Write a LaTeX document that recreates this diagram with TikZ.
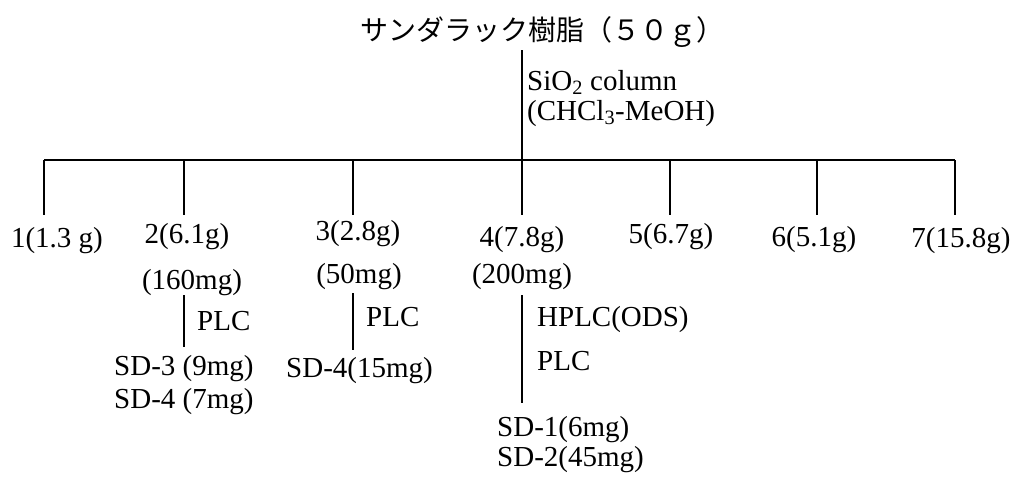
\documentclass[tikz,border=0pt]{standalone}
\usepackage{fontspec}
\setmainfont{Liberation Serif}
\newfontfamily\cjk{Noto Sans CJK JP}
\begin{document}
\begin{tikzpicture}[x=1pt,y=-1pt,
  lbl/.style={inner sep=0pt,font=\fontsize{29}{34}\selectfont},
  ttl/.style={inner sep=0pt,font=\fontsize{28}{34}\cjk},
  conn/.style={line width=2.2pt}]
\useasboundingbox (0,0) rectangle (1017,483);
% title
\node[ttl,anchor=base] (title) at (542,40) {サンダラック樹脂（５０ｇ）};
\coordinate (top) at (522,50);
\node[lbl,anchor=base west,align=left] (sio) at (527,90) {SiO\textsubscript{2} column};
\node[lbl,anchor=base west] (chcl) at (527,120) {(CHCl\textsubscript{3}-MeOH)};
% bar coordinates
\coordinate (b1) at (44,160);
\coordinate (b2) at (184,160);
\coordinate (b3) at (353,160);
\coordinate (b4) at (522,160);
\coordinate (b5) at (670,160);
\coordinate (b6) at (817,160);
\coordinate (b7) at (955,160);
\coordinate (d1) at (44,215);
\coordinate (d2) at (184,215);
\coordinate (d3) at (353,215);
\coordinate (d4) at (522,215);
\coordinate (d5) at (670,215);
\coordinate (d6) at (817,215);
\coordinate (d7) at (955,215);
\draw[conn] (top) -- (b4);
\draw[conn] (b1) -- (b7);
\foreach \i in {1,...,7}{\draw[conn] (b\i) -- (d\i);}
% fractions
\node[lbl,anchor=base] (f1) at (57,247) {1(1.3 g)};
\node[lbl,anchor=base] (f2) at (187,243) {2(6.1g)};
\node[lbl,anchor=base] (f3) at (358,240) {3(2.8g)};
\node[lbl,anchor=base] (f4) at (522,246) {4(7.8g)};
\node[lbl,anchor=base] (f5) at (671,243) {5(6.7g)};
\node[lbl,anchor=base] (f6) at (814,246) {6(5.1g)};
\node[lbl,anchor=base] (f7) at (961,247) {7(15.8g)};
\node[lbl,anchor=base] (m2) at (192,289) {(160mg)};
\node[lbl,anchor=base] (m3) at (359,283) {(50mg)};
\node[lbl,anchor=base] (m4) at (522,283) {(200mg)};
% column 2
\coordinate (p2a) at (184,295);
\coordinate (p2b) at (184,347);
\draw[conn] (p2a) -- (p2b);
\node[lbl,anchor=base west] (plc2) at (197,330) {PLC};
\node[lbl,anchor=base west] (sd3) at (114,375) {SD-3 (9mg)};
\node[lbl,anchor=base west] (sd4a) at (114,408) {SD-4 (7mg)};
% column 3
\coordinate (p3a) at (353,293);
\coordinate (p3b) at (353,350);
\draw[conn] (p3a) -- (p3b);
\node[lbl,anchor=base west] (plc3) at (366,326) {PLC};
\node[lbl,anchor=base west] (sd4b) at (286,377) {SD-4(15mg)};
% column 4
\coordinate (p4a) at (522,295);
\coordinate (p4b) at (522,403);
\draw[conn] (p4a) -- (p4b);
\node[lbl,anchor=base west] (hplc) at (537,326) {HPLC(ODS)};
\node[lbl,anchor=base west] (plc4) at (537,370) {PLC};
\node[lbl,anchor=base west] (sd1) at (497,436) {SD-1(6mg)};
\node[lbl,anchor=base west] (sd2) at (497,466) {SD-2(45mg)};
\end{tikzpicture}
\end{document}
